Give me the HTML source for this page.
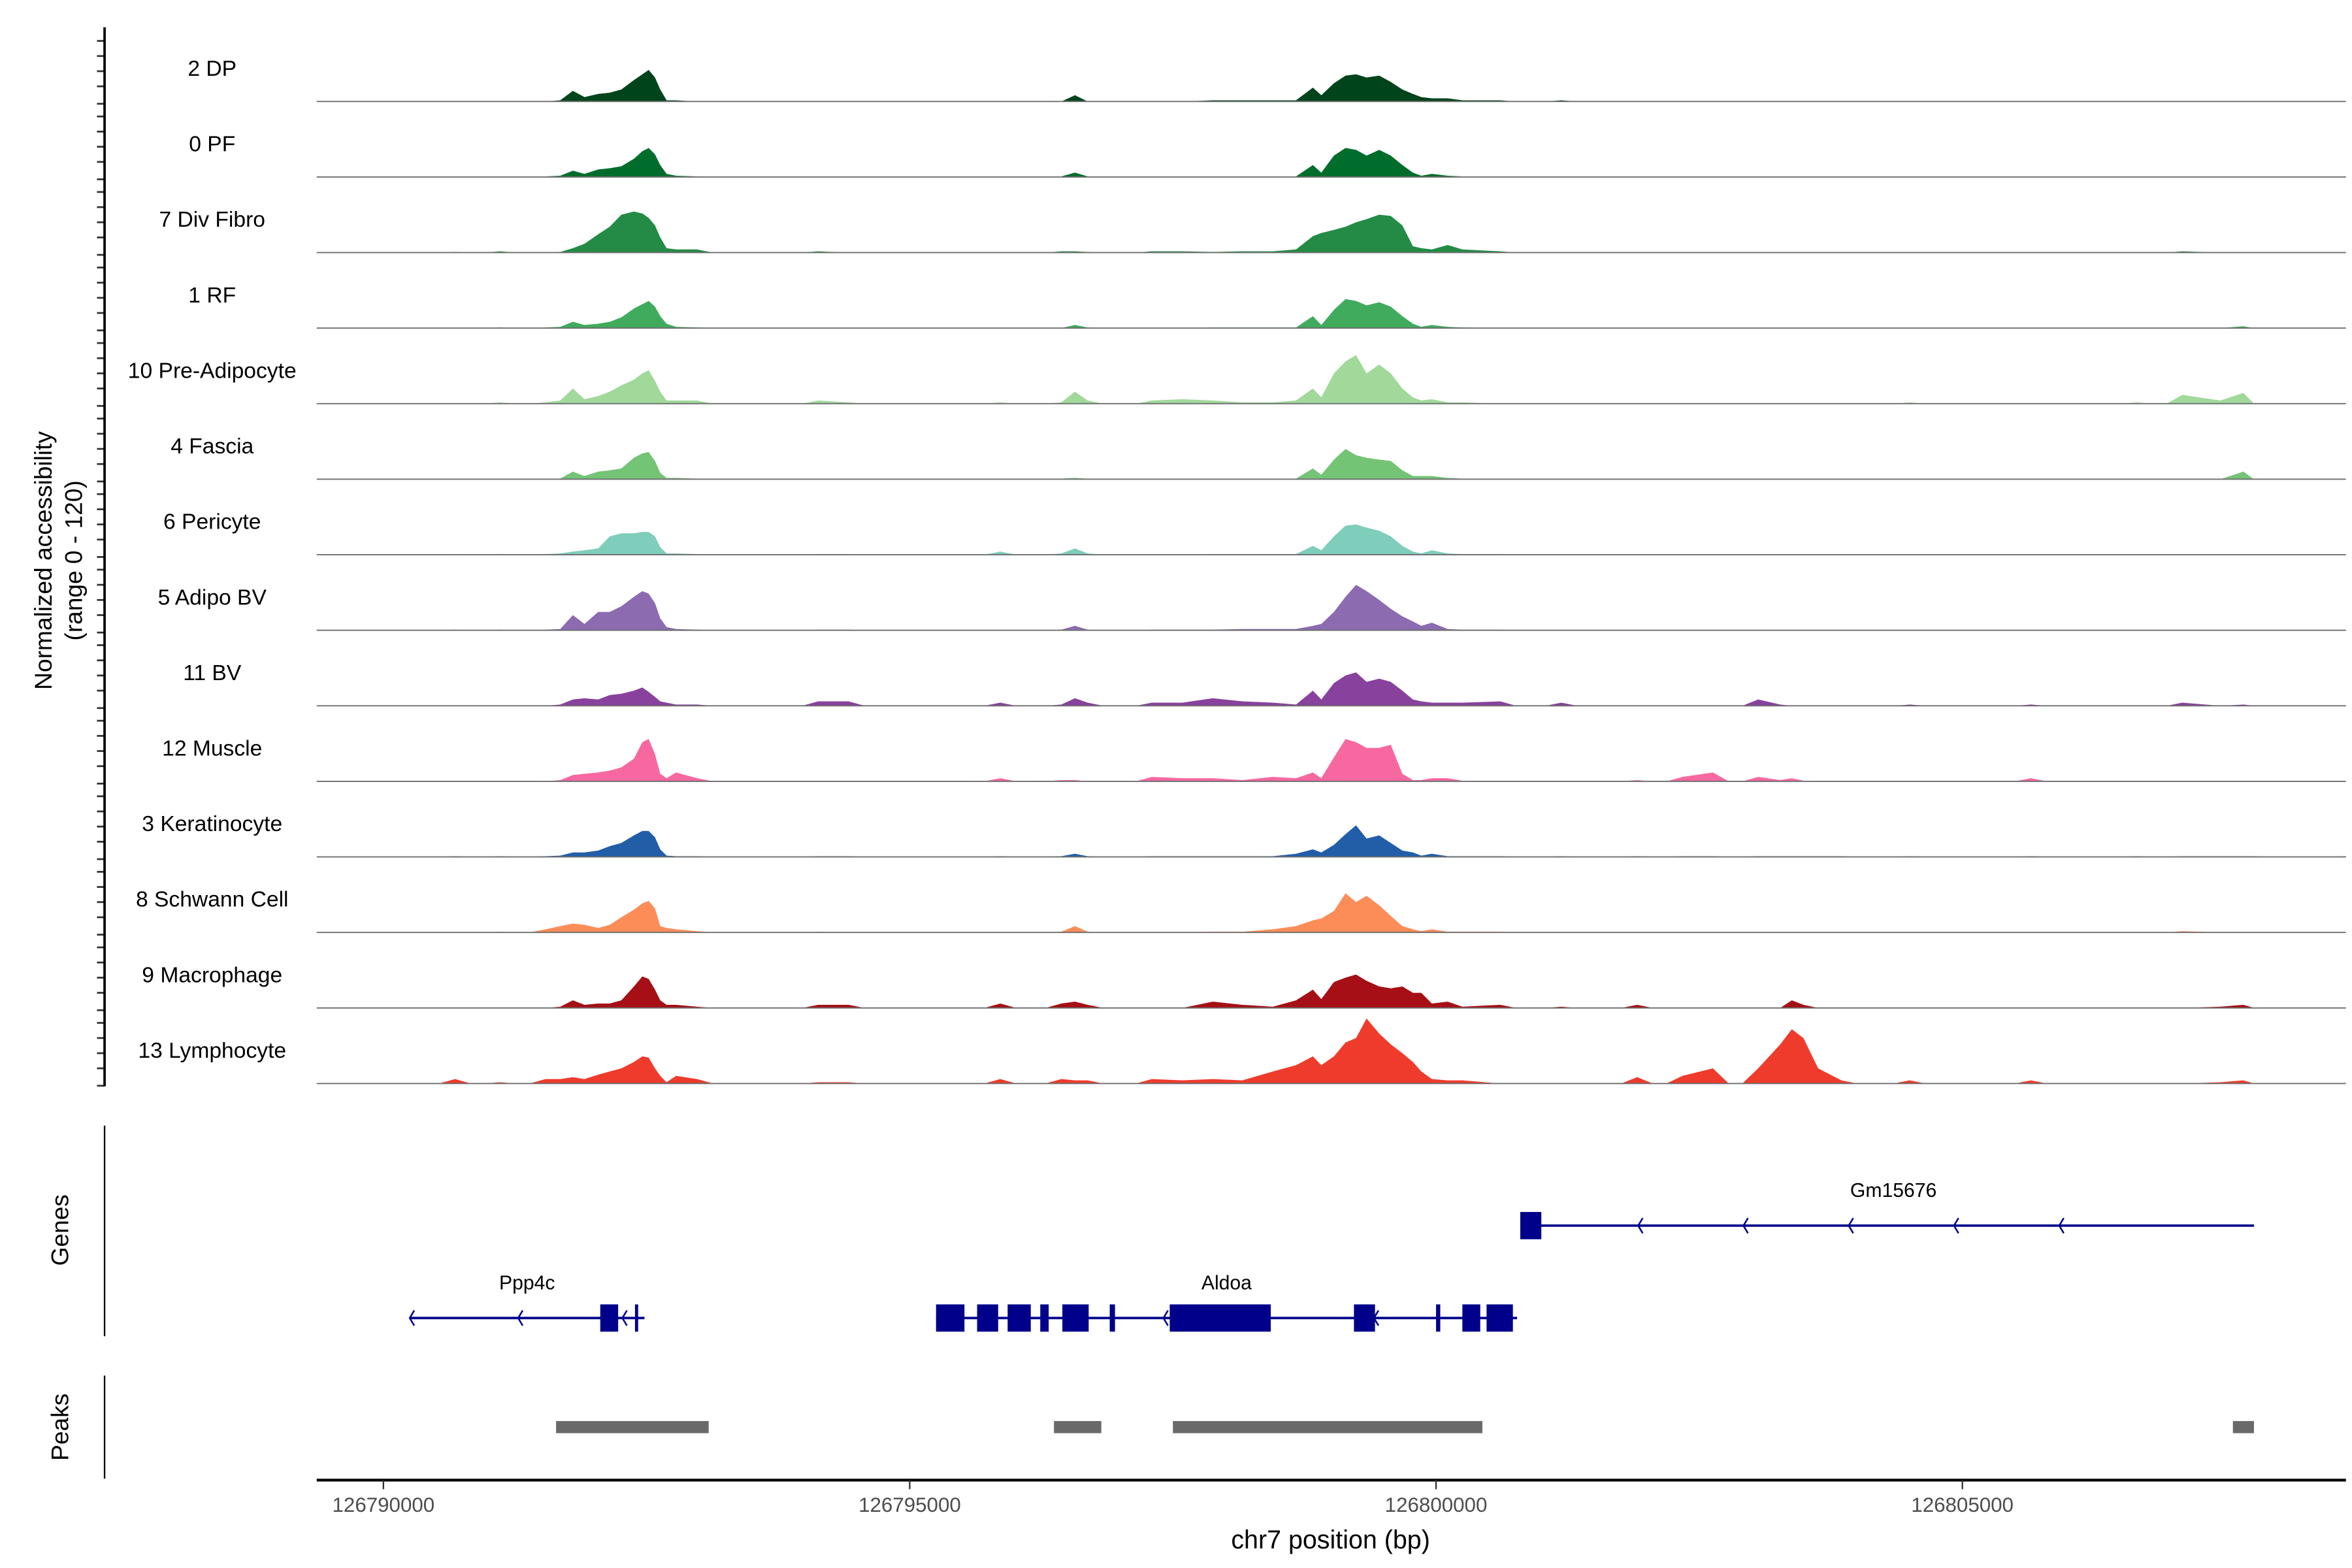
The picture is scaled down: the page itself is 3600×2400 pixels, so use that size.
<!DOCTYPE html>
<html><head><meta charset="utf-8"><style>
html,body{margin:0;padding:0;background:#fff}
svg{display:block}
text{font-family:"Liberation Sans",Arial,sans-serif}
</style></head><body>
<svg id="chart" xmlns="http://www.w3.org/2000/svg" width="3600" height="2400" viewBox="0 0 1552 1035" preserveAspectRatio="none">
<rect x="0" y="0" width="1552" height="1035" fill="#fff"/>
<g id="tracks"></g>
<g id="yaxis"></g>
<text transform="translate(34,370) rotate(-90)" text-anchor="middle" font-size="16" fill="#000">Normalized accessibility</text>
<text transform="translate(54,370) rotate(-90)" text-anchor="middle" font-size="16" fill="#000">(range 0 - 120)</text>
<g id="genes"></g>
<g id="peaks"></g>
<g id="xaxis"></g>
<text x="878" y="1022" text-anchor="middle" font-size="17" fill="#000">chr7 position (bp)</text>
</svg>
<script>
const trackNames = ["2 DP","0 PF","7 Div Fibro","1 RF","10 Pre-Adipocyte","4 Fascia","6 Pericyte","5 Adipo BV","11 BV","12 Muscle","3 Keratinocyte","8 Schwann Cell","9 Macrophage","13 Lymphocyte"];
const trackColors = ["#00441b","#006d2c","#238b45","#41ab5d","#a1d99b","#74c476","#7fcdbb","#8c6bb1","#88419d","#f768a1","#225ea8","#fc8d59","#a50f15","#ef3b2c"];
const positions = [126789370,126790680,126791110,126791540,126791680,126791800,126791910,126792040,126792150,126792260,126792380,126792460,126792520,126792580,126792630,126792690,126792780,126792980,126794130,126794420,126795860,126796440,126796570,126796690,126797300,126797590,126797880,126798160,126798450,126798670,126798830,126798910,126799030,126799140,126799240,126799340,126799460,126799570,126799680,126799780,126799860,126799960,126800110,126800250,126800610,126801190,126801910,126802340,126802630,126803060,126803270,126803380,126803490,126803630,126803850,126804500,126805650,126806660,126807090,126807450,126807670,126807770,126808650];
const vDP   = [0,0,0,0,2,17,7,12,14,19,34,43,50,38,19,2,2,0,0,0,0,0,10,0,0,0,2,2,2,2,22,10,29,41,43,38,41,31,19,12,7,5,5,2,2,2,0,0,0,0,0,0,0,0,0,0,0,0,0,0,0,0,0];
const vPF   = [0,1,1,1,2,10,5,12,14,17,29,41,46,36,19,5,2,1,0,0,0,1,7,1,0,0,1,1,1,1,19,7,34,46,43,34,43,34,19,7,2,5,2,1,1,0,0,0,0,0,0,0,0,0,0,0,0,0,0,0,0,0,0];
const vDiv  = [0,1,2,0,1,7,14,29,41,60,65,62,55,43,24,7,5,5,2,0,0,2,2,1,2,2,1,2,2,5,26,31,36,41,48,53,60,58,43,10,7,5,12,5,2,0,0,0,0,0,0,0,0,0,0,0,0,0,2,0,0,0,0];
const vRF   = [0,0,1,1,2,10,5,7,10,17,31,38,43,34,19,7,2,1,0,0,0,0,5,1,0,0,1,1,1,1,19,5,29,46,43,36,41,34,19,7,2,5,2,1,0,0,0,0,0,0,0,0,0,0,0,0,0,0,0,0,3,0,0];
const vPre  = [0,0,2,2,5,24,7,12,19,29,38,48,53,36,19,5,5,5,5,2,2,2,19,5,5,7,5,2,2,5,24,10,48,67,77,48,62,48,24,10,5,7,2,2,0,0,0,0,0,0,0,0,0,0,0,2,0,2,14,5,17,0,0];
const vFas  = [0,0,1,0,1,12,5,12,14,17,34,41,43,29,10,2,2,1,0,0,0,1,2,1,0,0,1,1,1,1,17,7,31,48,38,34,31,29,14,5,5,5,2,1,1,0,0,0,0,0,0,0,0,0,0,0,0,0,0,0,12,0,0];
const vPeri = [0,1,1,1,2,5,7,10,29,34,34,36,36,29,12,2,2,1,1,1,5,2,10,2,0,0,1,1,1,1,14,7,29,46,48,43,38,29,14,5,2,7,2,1,1,0,0,0,0,0,0,0,0,0,0,0,0,0,0,0,0,0,0];
const vABV  = [0,1,1,1,2,24,10,29,29,38,53,62,58,43,19,5,2,1,1,1,0,1,7,1,1,1,1,2,2,2,7,10,29,53,72,62,48,34,22,14,7,12,2,1,1,0,0,0,0,0,0,0,0,0,0,0,0,0,0,0,0,0,0];
const vBV   = [0,0,0,0,2,10,12,10,17,19,24,29,22,14,7,5,2,2,7,7,5,2,12,5,5,5,12,7,5,2,24,10,36,48,53,38,43,38,24,10,7,5,5,5,7,5,0,0,0,10,2,0,0,0,0,2,2,0,5,0,2,0,0];
const vMus  = [0,0,0,0,2,10,12,14,17,22,36,62,67,43,12,5,14,5,0,0,5,2,2,0,7,5,5,2,7,5,14,5,38,67,62,53,53,58,12,2,2,5,5,1,0,0,2,7,14,7,2,5,1,0,0,0,5,0,0,0,0,0,0];
const vKer  = [0,1,1,1,2,7,7,10,17,22,34,41,41,31,12,2,1,1,1,1,1,1,5,1,1,1,1,1,1,5,12,7,19,36,50,29,34,22,10,7,2,5,1,1,1,1,1,1,1,1,1,1,1,1,1,1,1,1,1,1,1,1,1];
const vSch  = [0,0,1,5,10,14,12,7,12,24,36,46,50,38,10,7,5,2,1,0,0,1,10,1,0,0,1,1,5,10,19,22,34,62,48,58,43,26,10,5,2,5,1,1,1,0,0,0,0,0,0,0,0,0,0,0,0,0,2,0,0,0,0];
const vMac  = [0,0,0,0,2,12,5,7,7,12,34,50,46,29,12,5,5,2,5,5,7,7,10,5,0,0,10,5,2,12,29,14,41,48,53,43,34,31,34,24,24,7,10,2,5,2,5,0,0,0,0,12,5,0,0,0,0,0,0,2,5,0,0];
const vLym  = [0,7,2,7,7,10,7,14,19,24,34,43,41,24,12,2,12,7,2,2,7,7,5,5,7,5,7,5,19,29,43,29,43,65,72,103,79,62,48,34,19,7,5,5,0,0,10,12,24,24,62,86,72,24,5,5,5,0,0,2,5,0,0];
const trackValues = [vDP,vPF,vDiv,vRF,vPre,vFas,vPeri,vABV,vBV,vMus,vKer,vSch,vMac,vLym];
const xTicks = [126790000,126795000,126800000,126805000];
const xTickLabels = ["126790000","126795000","126800000","126805000"];
const geneNames = ["Gm15676","Ppp4c","Aldoa"];
const geneStarts = [126800920,126790250,126795250];
const geneEnds = [126807770,126792480,126800770];
const geneRows = [0,1,1];
const exonStarts = [126800800,126792060,126792390,126795250,126795640,126795930,126796240,126796450,126796900,126797470,126799220,126800000,126800250,126800480];
const exonEnds   = [126801000,126792230,126792420,126795520,126795840,126796150,126796320,126796700,126796950,126798430,126799420,126800040,126800420,126800730];
const exonRows   = [0,1,1,1,1,1,1,1,1,1,1,1,1,1];
const arrowPositions = [126800920,126801920,126802920,126803920,126804920,126805920,126790250,126791280,126792270,126797410,126799410,126800250];
const arrowRows = [0,0,0,0,0,0,1,1,1,1,1,1];
const peakStarts = [126791640,126796370,126797500,126807570];
const peakEnds   = [126793090,126796820,126800440,126807770];
const yMax = 120;

const NS = "http://www.w3.org/2000/svg";
const X0 = 209, X1 = 1548;
const BP0 = 126790000, PX0 = 253, PXPER = 347.3/5000;
function xScale(bp){ return PX0 + (bp - BP0) * PXPER; }
const TRACK_H = 50, FIRST_BASE = 67, STEP = 49.86;
function baseY(i){ return FIRST_BASE + i*STEP; }
function yScale(v, i){ return baseY(i) - v / yMax * TRACK_H; }
function mk(tag, attrs, parent){ const e=document.createElementNS(NS,tag); for(const k in attrs) e.setAttribute(k,attrs[k]); parent.appendChild(e); return e; }

const GAP = 400, PAD = 150;
const tracks = document.getElementById('tracks');
const yaxis = document.getElementById('yaxis');
trackNames.forEach((name, i) => {
  const g = mk('g', {}, tracks);
  
  
  const vals = trackValues[i];
  const by = baseY(i);
  let d = 'M' + X0 + ',' + by.toFixed(2);
  positions.forEach((p, j) => {
    if (j > 0 && p - positions[j-1] > GAP) {
      d += ' L' + xScale(positions[j-1] + PAD).toFixed(2) + ',' + by.toFixed(2);
      d += ' L' + xScale(p - PAD).toFixed(2) + ',' + by.toFixed(2);
    }
    d += ' L' + Math.max(X0, Math.min(X1, xScale(p))).toFixed(2) + ',' + yScale(vals[j], i).toFixed(2);
  });
  d += ' L' + X1 + ',' + by.toFixed(2) + ' Z';
  const area = mk('path', {d: d, fill: trackColors[i], stroke: 'none'}, g);
  
  
  const base = mk('line', {x1: X0, x2: X1, y1: by, y2: by, stroke: '#6e6e6e', 'stroke-width': 0.8}, g);
  
  
  const lab = mk('text', {x: 140, y: by - 17, 'text-anchor': 'middle', 'font-size': 14.5, fill: '#000'}, g);
  lab.textContent = name;
  
  
  for (let k = 0; k < 5; k++) {
    const ty = by - k*10 + (k===0 ? 1.5 : 0);
    const t = mk('line', {x1: 64, x2: 69, y1: ty, y2: ty, stroke: '#333', 'stroke-width': 1.2}, yaxis);
    
    
  }
});
const yl = mk('line', {x1: 69, x2: 69, y1: 18, y2: 717, stroke: '#000', 'stroke-width': 1.6}, yaxis);



// Genes
const genes = document.getElementById('genes');
const GC = '#00008b';
const rowY = [809, 870];
const gl = mk('line', {x1: 69, x2: 69, y1: 743, y2: 882, stroke: '#000', 'stroke-width': 1}, genes);


const gt = mk('text', {transform: 'translate(45,812) rotate(-90)', 'text-anchor': 'middle', 'font-size': 16, fill: '#000'}, genes);
gt.textContent = 'Genes';


geneNames.forEach((n, i) => {
  const y = rowY[geneRows[i]];
  const l = mk('line', {x1: xScale(geneStarts[i]), x2: xScale(geneEnds[i]), y1: y, y2: y, stroke: GC, 'stroke-width': 1.6}, genes);
  
  
  const t = mk('text', {x: (xScale(geneStarts[i]) + xScale(geneEnds[i]))/2, y: y - 19, 'text-anchor': 'middle', 'font-size': 13, fill: '#000'}, genes);
  t.textContent = n;
  
  
});
exonStarts.forEach((s, i) => {
  const y = rowY[exonRows[i]];
  const r = mk('rect', {x: xScale(s), y: y - 9, width: Math.max(1.5, xScale(exonEnds[i]) - xScale(s)), height: 18, fill: GC}, genes);
  
  
});
arrowPositions.forEach((p, i) => {
  const y = rowY[arrowRows[i]], x = xScale(p);
  const a = mk('path', {d: `M${x+3},${y-5} L${x},${y} L${x+3},${y+5}`, fill: 'none', stroke: GC, 'stroke-width': 1.1}, genes);
  
  
});

// Peaks
const peaks = document.getElementById('peaks');
const pl = mk('line', {x1: 69, x2: 69, y1: 908, y2: 976, stroke: '#000', 'stroke-width': 1}, peaks);


const pt = mk('text', {transform: 'translate(45,942) rotate(-90)', 'text-anchor': 'middle', 'font-size': 16, fill: '#000'}, peaks);
pt.textContent = 'Peaks';


peakStarts.forEach((s, i) => {
  const r = mk('rect', {x: xScale(s), y: 938, width: xScale(peakEnds[i]) - xScale(s), height: 8, fill: '#696969'}, peaks);
  
  
});

// X axis
const xa = document.getElementById('xaxis');
const xl = mk('line', {x1: X0, x2: X1, y1: 977, y2: 977, stroke: '#000', 'stroke-width': 1.8}, xa);


xTicks.forEach((t, i) => {
  const x = xScale(t);
  const tk = mk('line', {x1: x, x2: x, y1: 977, y2: 983, stroke: '#333', 'stroke-width': 1}, xa);
  
  
  const lb = mk('text', {x: x, y: 998, 'text-anchor': 'middle', 'font-size': 13.5, fill: '#4d4d4d'}, xa);
  lb.textContent = xTickLabels[i];
  
  
});
</script>
</body></html>
